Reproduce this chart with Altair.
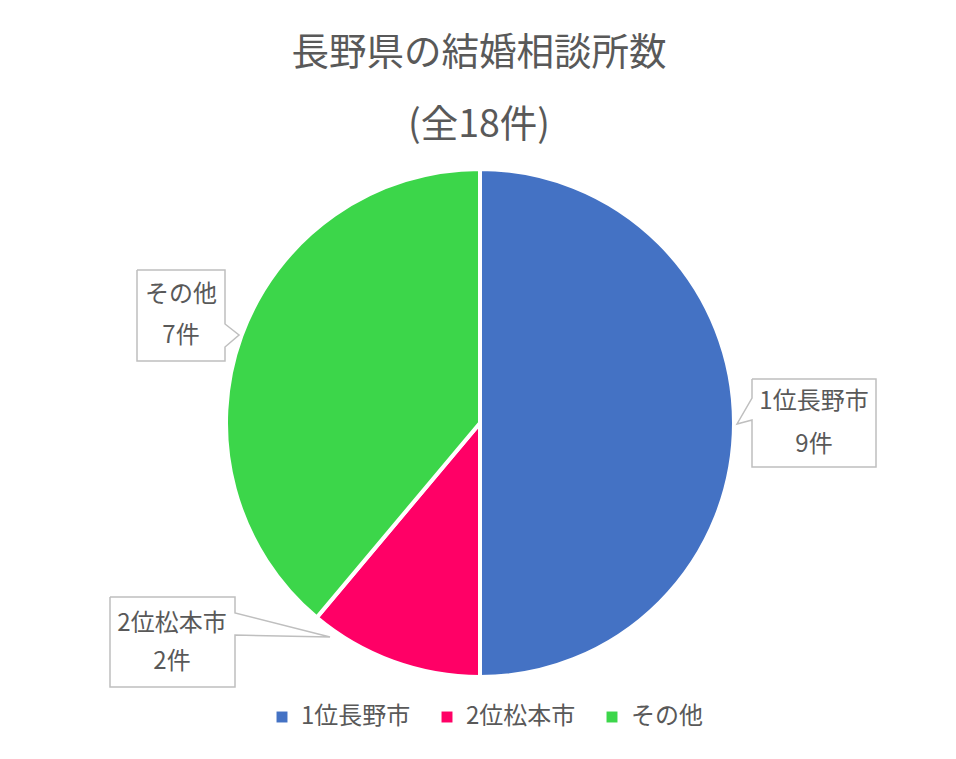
import altair as alt
import pandas as pd

# ---------------- data ----------------
title_lines = ["長野県の結婚相談所数", "(全18件)"]
categories = ["1位長野市", "2位松本市", "その他"]
counts = [9, 2, 7]
unit = "件"
colors = ["#4472C4", "#FF0066", "#3CD64A"]

# ---------------- layout ----------------
W, H = 956, 759
CX, CY, R = 480, 423, 254
FONT = "Noto Sans CJK JP"
TEXT_COLOR = "#595959"
title_x = 479
title_y = [54, 126]
# callout boxes: x0, x1, y0, y1, pointer side, pointer y0, pointer y1, tip x, tip y
boxes = [
    (752, 876, 379, 467, "left", 398, 420, 737, 424),
    (110, 235, 597, 687, "right", 613, 635, 330, 637),
    (137, 225, 270, 361, "right", 324, 347, 239, 335),
]
label_pos = [  # center x, line1 y, line2 y
    (814, 402, 445),
    (172, 624, 662),
    (181, 295, 336),
]

# ---------------- build tables ----------------
pie_df = pd.DataFrame({
    "category": categories,
    "count": counts,
    "idx": list(range(len(categories))),
})

outline_rows = []
for i, (x0, x1, y0, y1, side, p0, p1, tx, ty) in enumerate(boxes):
    if side == "right":
        pts = [(x0, y0), (x1, y0), (x1, p0), (tx, ty), (x1, p1), (x1, y1), (x0, y1), (x0, y0)]
    else:
        pts = [(x0, y0), (x1, y0), (x1, y1), (x0, y1), (x0, p1), (tx, ty), (x0, p0), (x0, y0)]
    for k, (px, py) in enumerate(pts):
        outline_rows.append({"id": i, "ord": k, "x": px, "y": py})
outline_df = pd.DataFrame(outline_rows)

label_rows = []
for (cx, ly1, ly2), cat, cnt in zip(label_pos, categories, counts):
    label_rows.append({"x": cx, "y": ly1, "text": cat})
    label_rows.append({"x": cx, "y": ly2, "text": f"{cnt}{unit}"})
label_df = pd.DataFrame(label_rows)

title_df = pd.DataFrame({"x": [title_x] * len(title_lines), "y": title_y, "text": title_lines})

# ---------------- chart ----------------
pie = alt.Chart(pie_df).mark_arc(radius=R, stroke="white", strokeWidth=4).encode(
    theta=alt.Theta("count:Q", stack=True),
    order=alt.Order("idx:Q"),
    color=alt.Color(
        "category:N",
        scale=alt.Scale(domain=categories, range=colors),
        legend=alt.Legend(
            orient="none", legendX=270, legendY=705, direction="horizontal",
            title=None, symbolType="square", symbolSize=120, symbolStrokeWidth=0,
            labelFontSize=24, labelColor=TEXT_COLOR, labelFont=FONT,
            columnPadding=24, labelOffset=7, padding=0,
        ),
    ),
    x=alt.value(CX),
    y=alt.value(CY),
)

outlines = alt.Chart(outline_df).mark_line(color="#BFBFBF", strokeWidth=1.5).encode(
    x=alt.X("x:Q", scale=None, axis=None),
    y=alt.Y("y:Q", scale=None, axis=None),
    detail="id:N",
    order="ord:Q",
)

labels = alt.Chart(label_df).mark_text(
    font=FONT, fontSize=24, color=TEXT_COLOR, align="center", baseline="middle"
).encode(
    x=alt.X("x:Q", scale=None, axis=None),
    y=alt.Y("y:Q", scale=None, axis=None),
    text="text:N",
)

titles = alt.Chart(title_df).mark_text(
    font=FONT, fontSize=37.5, color=TEXT_COLOR, align="center", baseline="middle"
).encode(
    x=alt.X("x:Q", scale=None, axis=None),
    y=alt.Y("y:Q", scale=None, axis=None),
    text="text:N",
)

chart = alt.layer(pie, outlines, labels, titles).properties(
    width=W, height=H, padding=0, autosize=alt.AutoSizeParams(type="none"),
    background="white",
).configure_view(stroke=None)

chart.save("out.html", embed_options={"renderer": "svg", "actions": False})
